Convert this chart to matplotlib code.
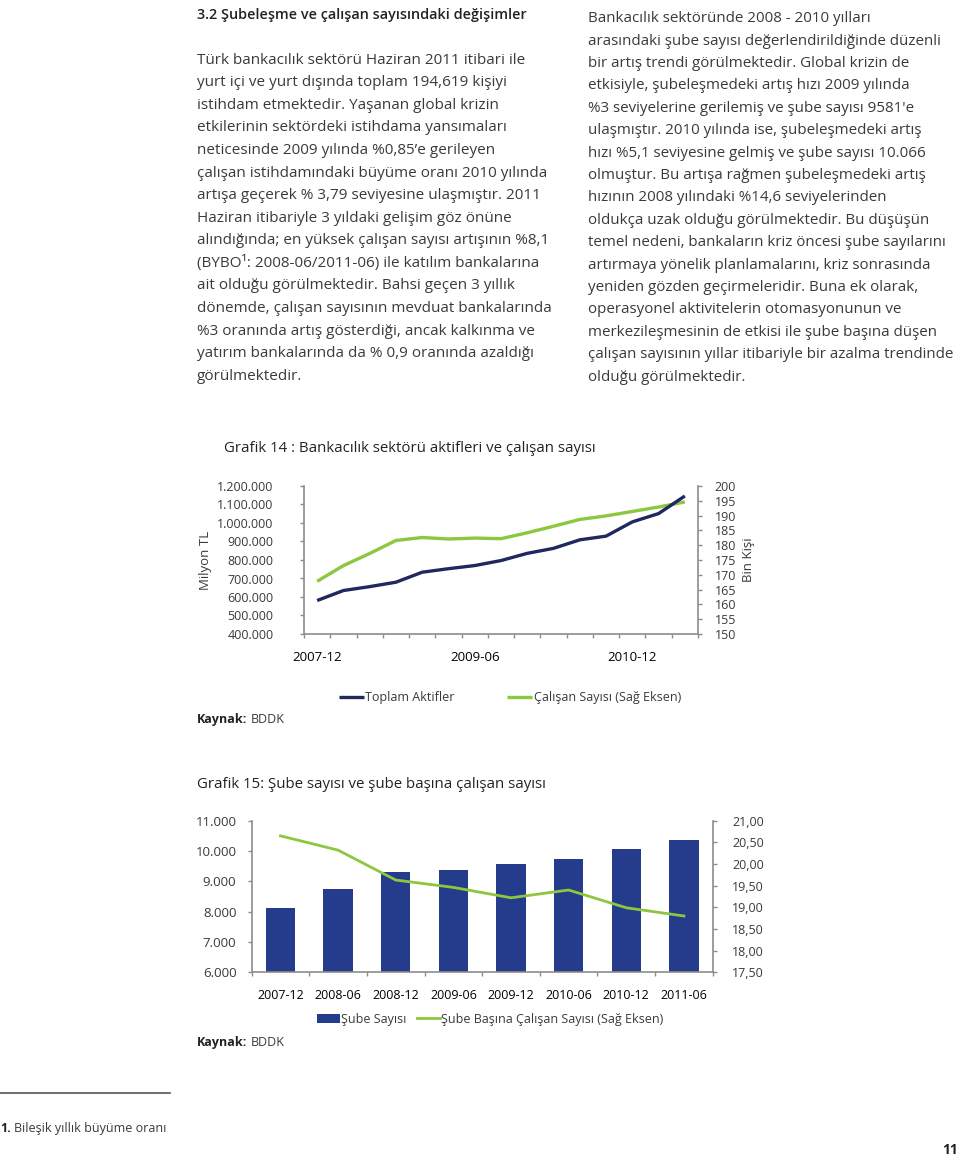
import numpy as np
import matplotlib
matplotlib.use('Agg')
import matplotlib.pyplot as plt

plt.rcParams['font.family'] = ['Open Sans', 'DejaVu Sans']

# ---- chart 14 data (quarterly, 2007-12 .. 2011-06)
quarters = ['2007-12', '2008-03', '2008-06', '2008-09', '2008-12', '2009-03', '2009-06', '2009-09',
            '2009-12', '2010-03', '2010-06', '2010-09', '2010-12', '2011-03', '2011-06']
aktifler = [581, 635, 656, 680, 734, 753, 770, 797, 836, 863, 909, 929, 1006, 1051, 1146]  # bin milyon TL
calisan = [167.8, 173.1, 177.2, 181.6, 182.6, 182.1, 182.4, 182.2, 184.2, 186.4, 188.7, 189.9,
           191.4, 192.9, 194.6]  # bin kisi
y1_ticks = [400, 500, 600, 700, 800, 900, 1000, 1100, 1200]
y1_labels = ['400.000', '500.000', '600.000', '700.000', '800.000', '900.000', '1.000.000',
             '1.100.000', '1.200.000']
y1r_ticks = [150, 155, 160, 165, 170, 175, 180, 185, 190, 195, 200]

# ---- chart 15 data (half-yearly)
donem = ['2007-12', '2008-06', '2008-12', '2009-06', '2009-12', '2010-06', '2010-12', '2011-06']
sube = [8132, 8736, 9319, 9385, 9581, 9736, 10066, 10352]
sube_basina = [20.65, 20.32, 19.63, 19.46, 19.22, 19.40, 18.99, 18.80]
y2_ticks = [6000, 7000, 8000, 9000, 10000, 11000]
y2_labels = ['6.000', '7.000', '8.000', '9.000', '10.000', '11.000']
y2r_ticks = [17.5, 18.0, 18.5, 19.0, 19.5, 20.0, 20.5, 21.0]

left_col = [
    'Türk bankacılık sektörü Haziran 2011 itibari ile',
    'yurt içi ve yurt dışında toplam 194,619 kişiyi',
    'istihdam etmektedir. Yaşanan global krizin',
    'etkilerinin sektördeki istihdama yansımaları',
    'neticesinde 2009 yılında %0,85’e gerileyen',
    'çalışan istihdamındaki büyüme oranı 2010 yılında',
    'artışa geçerek % 3,79 seviyesine ulaşmıştır. 2011',
    'Haziran itibariyle 3 yıldaki gelişim göz önüne',
    'alındığında; en yüksek çalışan sayısı artışının %8,1',
    '(BYBO¹: 2008-06/2011-06) ile katılım bankalarına',
    'ait olduğu görülmektedir. Bahsi geçen 3 yıllık',
    'dönemde, çalışan sayısının mevduat bankalarında',
    '%3 oranında artış gösterdiği, ancak kalkınma ve',
    'yatırım bankalarında da % 0,9 oranında azaldığı',
    'görülmektedir.',
]
right_col = [
    'Bankacılık sektöründe 2008 - 2010 yılları',
    'arasındaki şube sayısı değerlendirildiğinde düzenli',
    'bir artış trendi görülmektedir. Global krizin de',
    'etkisiyle, şubeleşmedeki artış hızı 2009 yılında',
    "%3 seviyelerine gerilemiş ve şube sayısı 9581'e",
    'ulaşmıştır. 2010 yılında ise, şubeleşmedeki artış',
    'hızı %5,1 seviyesine gelmiş ve şube sayısı 10.066',
    'olmuştur. Bu artışa rağmen şubeleşmedeki artış',
    'hızının 2008 yılındaki %14,6 seviyelerinden',
    'oldukça uzak olduğu görülmektedir. Bu düşüşün',
    'temel nedeni, bankaların kriz öncesi şube sayılarını',
    'artırmaya yönelik planlamalarını, kriz sonrasında',
    'yeniden gözden geçirmeleridir. Buna ek olarak,',
    'operasyonel aktivitelerin otomasyonunun ve',
    'merkezileşmesinin de etkisi ile şube başına düşen',
    'çalışan sayısının yıllar itibariyle bir azalma trendinde',
    'olduğu görülmektedir.',
]

W, H = 960, 1158
fig = plt.figure(figsize=(W / 100, H / 100), dpi=100)
txt = '#3a3a3a'
grey = '#8c8c8c'
navy = '#1f2860'
barc = '#253b8c'
green = '#8dc63f'


def put(x, y, s, **kw):
    kw.setdefault('va', 'center_baseline')
    kw.setdefault('color', txt)
    return fig.text(x / W, 1 - y / H, s, **kw)


def column(lines, x, y0, step, width):
    objs = [put(x, y0 + i * step + 5, s, fontsize=11) for i, s in enumerate(lines)]
    r = fig.canvas.get_renderer()
    wmax = max(o.get_window_extent(r).width for o in objs)
    for o in objs:
        o.set_fontsize(11 * width / wmax)


put(197, 14, '3.2 Şubeleşme ve çalışan sayısındaki değişimler', fontsize=10.4,
    weight='semibold', color='#222222')
column(left_col, 197, 53.3, 22.56, 354)
column(right_col, 588, 11.7, 22.4, 366)


def style(ax):
    ax.spines['top'].set_visible(False)
    for s in ['left', 'right', 'bottom']:
        ax.spines[s].set_color(grey)
        ax.spines[s].set_linewidth(1.2)
    ax.tick_params(colors=grey, labelcolor=txt, length=3, width=1, labelsize=9)


# ---------------- chart 14
put(224, 447, 'Grafik 14 : Bankacılık sektörü aktifleri ve çalışan sayısı', fontsize=10.8,
    color='#222222')
ax1 = fig.add_axes([304 / W, 1 - 634 / H, 394 / W, 148 / H])
x = np.arange(len(quarters))
l1, = ax1.plot(x, aktifler, color=navy, lw=2.4, solid_capstyle='butt')
ax1.set_ylim(400, 1200)
ax1.set_xlim(-0.5, len(quarters) - 0.5)
ax1.set_yticks(y1_ticks)
ax1.set_yticklabels(y1_labels)
ax1.set_xticks(np.arange(-0.5, len(quarters), 1))
ax1.set_xticklabels([])
ax1.set_xticks(x[::6], minor=True)
ax1.set_xticklabels([quarters[i] for i in x[::6]], minor=True)
style(ax1)
ax1.tick_params(axis='y', pad=19)
ax1.tick_params(axis='x', which='minor', length=0, pad=12, labelsize=9.5)
ax1.spines['right'].set_visible(False)
ax1.set_ylabel('Milyon TL', fontsize=9.5, color=txt, labelpad=4)
ax1b = ax1.twinx()
l2, = ax1b.plot(x, calisan, color=green, lw=2.4, solid_capstyle='butt')
ax1b.set_ylim(150, 200)
ax1b.set_yticks(y1r_ticks)
style(ax1b)
ax1b.spines['left'].set_visible(False)
ax1b.spines['bottom'].set_visible(False)
ax1b.tick_params(axis='y', pad=9)
ax1b.set_ylabel('Bin Kişi', fontsize=9.5, color=txt, labelpad=4)
ax1.set_zorder(ax1b.get_zorder() + 1)
ax1.patch.set_visible(False)

fig.legend([l1, l2], ['Toplam Aktifler', 'Çalışan Sayısı (Sağ Eksen)'], loc='center left',
           bbox_to_anchor=(339 / W, 1 - 698 / H), ncol=2, frameon=False, fontsize=9,
           handlelength=2.0, handletextpad=0.1, columnspacing=4.2, borderpad=0,
           borderaxespad=0, labelcolor=txt)
put(197, 718, 'Kaynak:', fontsize=9, weight='bold', color='#222222')
put(251, 718, 'BDDK', fontsize=9)

# ---------------- chart 15
put(197, 782, 'Grafik 15: Şube sayısı ve şube başına çalışan sayısı', fontsize=10.8, color='#222222')
ax2 = fig.add_axes([251.7 / W, 1 - 972.3 / H, 461 / W, 151.6 / H])
x2 = np.arange(len(donem))
bars = ax2.bar(x2, sube, width=0.51, color=barc, zorder=2)
ax2.set_ylim(6000, 11000)
ax2.set_xlim(-0.5, len(donem) - 0.5)
ax2.set_yticks(y2_ticks)
ax2.set_yticklabels(y2_labels)
ax2.set_xticks(np.arange(-0.5, len(donem), 1))
ax2.set_xticklabels([])
ax2.set_xticks(x2, minor=True)
ax2.set_xticklabels(donem, minor=True)
style(ax2)
ax2.tick_params(axis='y', labelsize=9.5, pad=8)
ax2.spines['right'].set_visible(False)
ax2.tick_params(axis='x', which='minor', length=0, pad=12, labelsize=9)
ax2b = ax2.twinx()
l3, = ax2b.plot(x2, sube_basina, color=green, lw=2.0)
ax2b.set_ylim(17.5, 21.0)
ax2b.set_yticks(y2r_ticks)
ax2b.set_yticklabels([f'{v:.2f}'.replace('.', ',') for v in y2r_ticks])
style(ax2b)
ax2b.spines['left'].set_visible(False)
ax2b.spines['bottom'].set_visible(False)
ax2b.tick_params(axis='y', pad=11)

fig.legend([bars, l3], ['Şube Sayısı', 'Şube Başına Çalışan Sayısı (Sağ Eksen)'], loc='center left',
           bbox_to_anchor=(317 / W, 1 - 1019 / H), ncol=2, frameon=False, fontsize=9,
           handlelength=1.8, handletextpad=0.1, columnspacing=0.9, borderpad=0,
           borderaxespad=0, labelcolor=txt)
put(197, 1041, 'Kaynak:', fontsize=9, weight='bold', color='#222222')
put(251, 1041, 'BDDK', fontsize=9)

# ---------------- footnote
fig.add_artist(plt.Line2D([0, 170 / W], [1 - 1093 / H, 1 - 1093 / H], color='#555555', lw=1.2))
put(0, 1127, '1.', fontsize=9, weight='bold', color='#222222')
put(14, 1127, 'Bileşik yıllık büyüme oranı', fontsize=9)
put(958, 1150, '11', fontsize=10, weight='bold', color='#222222', ha='right', va='center')

fig.savefig('out.png', dpi=100)
